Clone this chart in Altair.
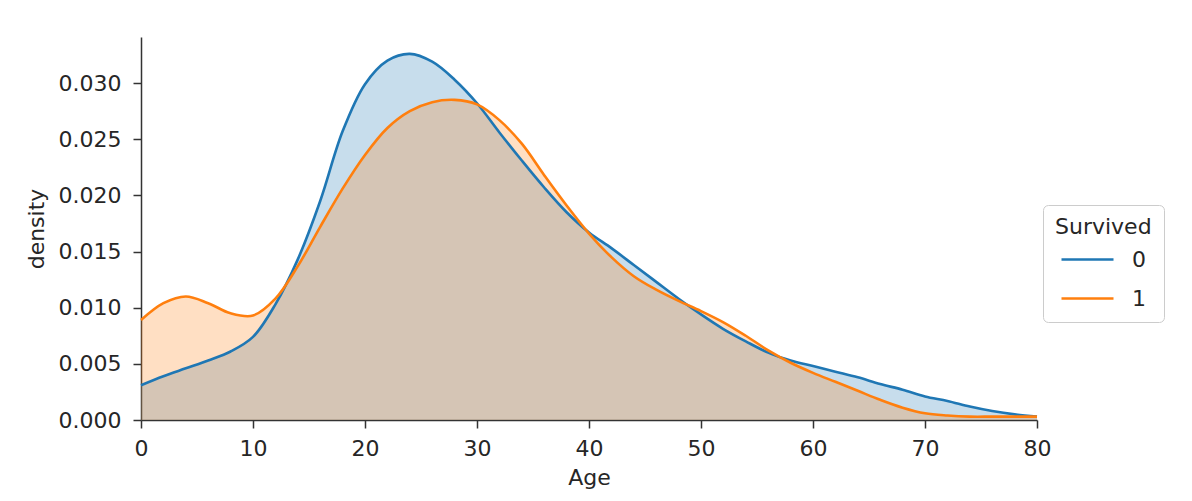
import altair as alt
import pandas as pd

ages = list(range(0, 81, 2))

survived_0 = [0.0031, 0.0039, 0.0046, 0.0053, 0.0061, 0.0074, 0.0103, 0.0143, 0.0195, 0.0257,
              0.0299, 0.0320, 0.0326, 0.0319, 0.0303, 0.0282, 0.0256, 0.0231, 0.0207, 0.0185,
              0.0167, 0.0153, 0.0138, 0.0123, 0.0108, 0.0094, 0.0081, 0.0070, 0.0060, 0.0053,
              0.0048, 0.0043, 0.0038, 0.0032, 0.0027, 0.0021, 0.0017, 0.0012, 0.0008, 0.0005,
              0.0003]

survived_1 = [0.0089, 0.0104, 0.0110, 0.0104, 0.0095, 0.0093, 0.0108, 0.0137, 0.0172, 0.0206,
              0.0236, 0.0260, 0.0275, 0.0283, 0.0285, 0.0281, 0.0267, 0.0246, 0.0218, 0.0191,
              0.0166, 0.0145, 0.0128, 0.0116, 0.0106, 0.0097, 0.0087, 0.0075, 0.0062, 0.0051,
              0.0042, 0.0034, 0.0026, 0.0018, 0.0011, 0.0006, 0.0004, 0.0003, 0.0003, 0.0003,
              0.0003]

groups = ["0", "1"]
colors = ["#1f77b4", "#ff7f0e"]
x_ticks = [0, 10, 20, 30, 40, 50, 60, 70, 80]
y_ticks = [0.0, 0.005, 0.010, 0.015, 0.020, 0.025, 0.030]

rows = []
for order, (g, vals) in enumerate(zip(groups, [survived_0, survived_1])):
    for a, v in zip(ages, vals):
        rows.append({"Age": a, "density": v, "Survived": g, "order": order})
df = pd.DataFrame(rows)

FONT = "DejaVu Sans"
TXT = "#262626"
INTERP = "catmull-rom"

x = alt.X("Age:Q", scale=alt.Scale(domain=[0, 80], nice=False, zero=False),
          axis=alt.Axis(values=x_ticks, title="Age", format="d"))
y = alt.Y("density:Q", scale=alt.Scale(domain=[0, 0.0341], nice=False),
          axis=alt.Axis(values=y_ticks, title="density", format=".3f"),
          stack=None)

legend = alt.Legend(title="Survived", orient="none",
                    legendX=902, legendY=168,
                    symbolType="stroke", symbolSize=2704,
                    symbolStrokeWidth=2.5, symbolOpacity=1,
                    symbolOffset=5, titlePadding=-7, rowPadding=-2,
                    labelOffset=17)
color = alt.Color("Survived:N", scale=alt.Scale(domain=groups, range=colors),
                  legend=legend)

area = alt.Chart(df).mark_area(opacity=0.25, interpolate=INTERP).encode(
    x=x, y=y, color=color,
    order=alt.Order("order:Q"),
)

line = alt.Chart(df).mark_line(strokeWidth=2.6, interpolate=INTERP).encode(
    x=x, y=y, color=color,
    order=alt.Order("Age:Q"),
)

chart = alt.layer(area, line).properties(
    width=896, height=383,
    autosize=alt.AutoSizeParams(type="none"),
    padding={"left": 133, "top": 29, "right": 140, "bottom": 70},
).configure_view(stroke=None).configure_axis(
    labelFont=FONT, titleFont=FONT, labelFontSize=22, titleFontSize=22,
    titleFontWeight="normal", labelColor=TXT, titleColor=TXT,
    domainColor="#333333", tickColor="#333333", domainWidth=1.5, tickWidth=1.5,
    tickSize=8, grid=False, labelPadding=10,
).configure_axisY(titlePadding=10, labelPadding=12).configure_axisX(
    titlePadding=8, labelFlush=False
).configure_legend(
    titleFont=FONT, labelFont=FONT, titleFontSize=22, labelFontSize=22,
    titleFontWeight="normal", titleColor=TXT, labelColor=TXT,
    strokeColor="#cccccc", fillColor="white", cornerRadius=5, padding=12,
)

chart.save("out.html", embed_options={"renderer": "svg", "actions": False})
